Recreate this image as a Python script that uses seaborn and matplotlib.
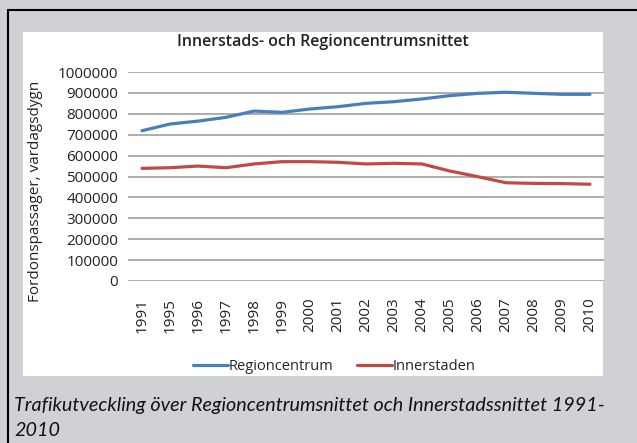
import matplotlib
matplotlib.use("Agg")
import matplotlib.pyplot as plt
import matplotlib.patches as mpatches
import matplotlib.lines as mlines
import seaborn as sns
import pandas as pd

years = ["1991", "1995", "1996", "1997", "1998", "1999", "2000", "2001", "2002",
         "2003", "2004", "2005", "2006", "2007", "2008", "2009", "2010"]
regioncentrum = [719000, 751000, 765000, 783000, 813000, 807000, 823000, 834000, 850000,
                 858000, 871000, 887000, 898000, 903000, 898000, 893000, 893000]
innerstaden = [539000, 542000, 550000, 542000, 560000, 571000, 571000, 568000, 560000,
               563000, 560000, 526000, 499000, 470000, 467000, 466000, 463000]
series_names = ["Regioncentrum", "Innerstaden"]
yticks = [0, 100000, 200000, 300000, 400000, 500000, 600000, 700000, 800000, 900000, 1000000]

df = pd.DataFrame({
    "År": years * 2,
    "Värde": regioncentrum + innerstaden,
    "Serie": [series_names[0]] * len(years) + [series_names[1]] * len(years),
})

sns.set_theme(style="white")
plt.rcParams["font.family"] = ["Open Sans", "DejaVu Sans"]

W, H = 637, 443
fig = plt.figure(figsize=(W / 100, H / 100), dpi=100)
bg = "#cfd1d4"
fig.patch.set_facecolor(bg)

# outer frame lines (top and left)
fig.add_artist(mlines.Line2D([8 / W, 1], [1 - 10 / H, 1 - 10 / H], color="black", lw=1.5))
fig.add_artist(mlines.Line2D([8 / W, 8 / W], [0, 1 - 10 / H], color="black", lw=1.5))
# white chart area
fig.add_artist(mpatches.Rectangle((23 / W, 1 - 376 / H), (603 - 23) / W, (376 - 32) / H,
                                  transform=fig.transFigure, facecolor="white",
                                  edgecolor="none", linewidth=0, zorder=0))

ax = fig.add_axes([128 / W, (H - 281) / H, (604 - 128) / W, (281 - 72) / H])
ax.set_facecolor("white")
palette = {"Regioncentrum": "#4a7ebb", "Innerstaden": "#be4b48"}
sns.lineplot(data=df, x="År", y="Värde", hue="Serie", palette=palette, ax=ax,
             linewidth=2.3, sort=False, legend=False)

ax.set_ylim(0, 1000000)
ax.set_xlim(-0.5, len(years) - 0.5)
ax.set_yticks(yticks)
ax.set_yticklabels([str(v) for v in yticks], fontsize=11, color="#222222")
ax.set_xticks(range(len(years)))
ax.set_xticklabels(years, rotation=90, fontsize=11, color="#222222")
ax.tick_params(axis="both", length=0, pad=7)
ax.tick_params(axis="x", pad=12)
ax.yaxis.grid(True, color="#a0a0a0", linewidth=1.2)
ax.set_axisbelow(True)
for s in ax.spines.values():
    s.set_visible(False)
ax.set_xlabel("")
ax.set_ylabel("Fordonspassager, vardagsdygn", fontsize=11, color="#222222")
ax.yaxis.set_label_coords((43 - 128) / (604 - 128), (281 - 191) / (281 - 72))

fig.text(323 / W, 1 - 42 / H, "Innerstads- och Regioncentrumsnittet", ha="center",
         va="center", fontsize=11.5, fontweight="semibold", color="#222222")

handles = [mlines.Line2D([], [], color=palette[n], lw=2.3, label=n) for n in series_names]
fig.legend(handles=handles, loc="center", bbox_to_anchor=(334 / W, 1 - 367 / H), ncol=2,
           frameon=False, fontsize=10.5, handlelength=2.4, handletextpad=0.05,
           columnspacing=1.6)

cap_font = ["Lato", "DejaVu Sans"]
fig.text(14 / W, 1 - 406 / H,
         "Trafikutveckling över Regioncentrumsnittet och Innerstadssnittet 1991-",
         ha="left", va="center", fontsize=14.2, style="italic", color="#111111",
         family=cap_font)
fig.text(14 / W, 1 - 430 / H, "2010", ha="left", va="center", fontsize=14.2,
         style="italic", color="#111111", family=cap_font)

fig.savefig("out.png", dpi=100, facecolor=bg)
